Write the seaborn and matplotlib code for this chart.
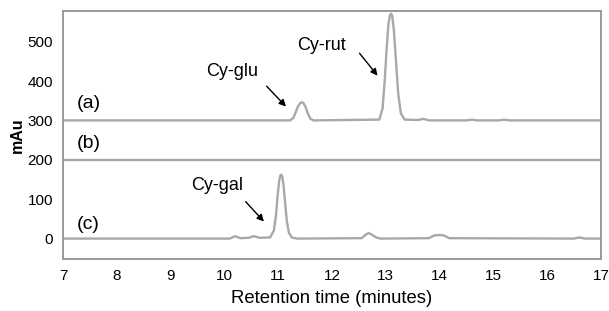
import numpy as np
import pandas as pd
import matplotlib
matplotlib.use("Agg")
import matplotlib.pyplot as plt
import seaborn as sns

# trace (a): baseline at 300 mAu, Cy-glu and Cy-rut peaks
time_a = [7.0, 11.22, 11.28, 11.33, 11.37, 11.41, 11.44, 11.47, 11.51, 11.55,
          11.6, 11.66, 12.88, 12.94, 12.98, 13.02, 13.05, 13.08, 13.1, 13.12,
          13.15, 13.19, 13.23, 13.28, 13.35, 13.6, 13.7, 13.8, 14.5, 14.6,
          14.7, 15.1, 15.2, 15.3, 17.0]
mau_a = [300, 300, 306, 322, 336, 344, 346, 344, 334, 318,
         304, 300, 302, 330, 400, 490, 545, 568, 571, 565,
         530, 450, 370, 318, 302, 301, 304, 300, 300, 302,
         300, 300, 302, 300, 300]

# trace (b): flat baseline at 200 mAu
time_b = [7.0, 17.0]
mau_b = [200, 200]

# trace (c): baseline at 0 mAu, Cy-gal peak
time_c = [7.0, 10.1, 10.2, 10.3, 10.45, 10.55, 10.65, 10.85, 10.92, 10.96, 10.99,
          11.02, 11.04, 11.06, 11.08, 11.1, 11.13, 11.16, 11.2, 11.25, 11.35,
          12.55, 12.62, 12.68, 12.74, 12.82, 12.9, 13.8, 13.9, 14.0, 14.08,
          14.18, 16.5, 16.6, 16.7, 17.0]
mau_c = [0, 0, 6, 1, 2, 6, 2, 3, 20, 60, 110,
         148, 160, 162, 155, 135, 90, 45, 15, 3, 0,
         1, 9, 14, 10, 3, 0, 1, 8, 9, 8,
         1, 0, 3, 0, 0]

x_ticks = list(range(7, 18))
y_ticks = [0, 100, 200, 300, 400, 500]
trace_labels = ["(a)", "(b)", "(c)"]
trace_label_y = [342, 241, 36]
peak_names = ["Cy-glu", "Cy-rut", "Cy-gal"]
peak_text_xy = [(10.15, 423), (11.8, 489), (9.86, 134)]
arrow_start = [(10.75, 392), (12.48, 476), (10.36, 99)]
arrow_end = [(11.18, 330), (12.88, 408), (10.77, 38)]

sns.set_style("white")
plt.rcParams["font.family"] = ["Liberation Sans", "DejaVu Sans"]
plt.rcParams["text.color"] = "black"
plt.rcParams["axes.labelcolor"] = "black"
plt.rcParams["xtick.color"] = "black"
plt.rcParams["ytick.color"] = "black"

line_color = "#a8a8a8"
axis_color = "#9a9a9a"

fig = plt.figure(figsize=(6.09, 3.11), dpi=100)
ax = fig.add_axes([0.1034, 0.167, 0.8834, 0.798])

for t, v in [(time_a, mau_a), (time_b, mau_b), (time_c, mau_c)]:
    df = pd.DataFrame({"time": t, "mau": v})
    sns.lineplot(data=df, x="time", y="mau", ax=ax, color=line_color,
                 linewidth=1.7, estimator=None, sort=False)

ax.set_xlim(7, 17)
ax.set_ylim(-52, 578)
ax.set_xticks(x_ticks)
ax.set_yticks(y_ticks)
ax.tick_params(axis="both", direction="out", length=4, width=1.2,
               color=axis_color, labelcolor="black", labelsize=11, pad=3)
for s in ax.spines.values():
    s.set_color(axis_color)
    s.set_linewidth(1.4)

ax.set_xlabel("Retention time (minutes)", fontsize=13.3, labelpad=5)
ax.set_ylabel("mAu", fontsize=11.5, fontweight="bold", labelpad=2)

for lab, y in zip(trace_labels, trace_label_y):
    ax.text(7.25, y, lab, fontsize=14, ha="left", va="center")

for name, txy, s, e in zip(peak_names, peak_text_xy, arrow_start, arrow_end):
    ax.text(txy[0], txy[1], name, fontsize=13, ha="center", va="center")
    ax.annotate("", xy=e, xytext=s,
                arrowprops=dict(arrowstyle="-|>", color="black", lw=1.0,
                                mutation_scale=10))

fig.savefig("out.png", dpi=100)
